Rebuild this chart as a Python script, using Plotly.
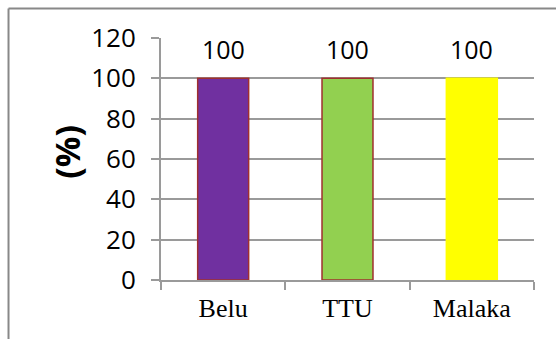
import plotly.graph_objects as go

categories = ["Belu", "TTU", "Malaka"]
values = [100, 100, 100]
bar_colors = ["#7030A0", "#92D050", "#FFFF00"]
outline_colors = ["#A0302F", "#A0302F", "#FFFF00"]
y_ticks = [0, 20, 40, 60, 80, 100, 120]

GRID = "#9a9a9a"

fig = go.Figure()
fig.add_trace(go.Bar(
    x=categories,
    y=values,
    width=0.41,
    marker=dict(color=bar_colors, line=dict(color=outline_colors, width=1.5)),
    showlegend=False,
))

for c, v in zip(categories, values):
    fig.add_annotation(
        x=c, y=v, xref="x", yref="y", text=str(v), showarrow=False,
        yanchor="bottom", yshift=10,
        font=dict(family="Open Sans", size=25, color="black"),
    )

fig.add_annotation(
    x=-0.252, y=0.53, xref="paper", yref="paper", text="<b>(%)</b>",
    showarrow=False, textangle=-90, xanchor="center", yanchor="middle",
    font=dict(family="Open Sans", size=34, color="black"),
)

# outer frame (left and top edges visible)
fig.add_shape(type="line", xref="paper", yref="paper",
              x0=-0.4088, x1=-0.4088, y0=-0.3, y1=1.1219,
              line=dict(color="#888888", width=2))
fig.add_shape(type="line", xref="paper", yref="paper",
              x0=-0.4088, x1=1.1, y0=1.1219, y1=1.1219,
              line=dict(color="#888888", width=2))

fig.update_layout(
    width=556, height=339,
    margin=dict(l=161, r=22, t=38, b=59),
    paper_bgcolor="white", plot_bgcolor="white",
    xaxis=dict(
        showgrid=False, showline=True, linecolor=GRID, linewidth=2,
        ticks="outside", tickson="boundaries", ticklen=8, tickcolor=GRID, tickwidth=2,
        tickfont=dict(family="Liberation Serif", size=26, color="black"),
        ticklabelstandoff=4,
    ),
    yaxis=dict(
        range=[0, 120], tickvals=y_ticks, showgrid=True, gridcolor=GRID, gridwidth=2,
        showline=True, linecolor=GRID, linewidth=2, zeroline=False,
        ticks="outside", ticklen=8, tickcolor=GRID, tickwidth=2,
        tickfont=dict(family="Open Sans", size=26, color="black"),
        ticklabelstandoff=10,
    ),
)

fig.write_html("out.html")
